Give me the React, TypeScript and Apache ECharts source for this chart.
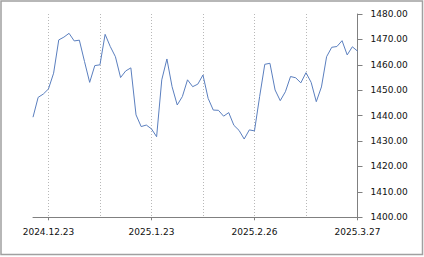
import React, { useEffect, useRef } from "react";
import * as echarts from "echarts";

const categories: string[] = [
  "2024.12.18", "2024.12.19", "2024.12.20", "2024.12.23", "2024.12.24", "2024.12.27", "2024.12.30", "2024.12.31",
  "2025.1.2", "2025.1.3", "2025.1.6", "2025.1.7", "2025.1.8", "2025.1.9", "2025.1.10", "2025.1.13",
  "2025.1.14", "2025.1.15", "2025.1.16", "2025.1.17", "2025.1.20", "2025.1.21", "2025.1.22", "2025.1.23",
  "2025.1.24", "2025.1.27", "2025.2.3", "2025.2.4", "2025.2.5", "2025.2.6", "2025.2.7", "2025.2.10",
  "2025.2.11", "2025.2.12", "2025.2.13", "2025.2.14", "2025.2.17", "2025.2.18", "2025.2.19", "2025.2.20",
  "2025.2.21", "2025.2.24", "2025.2.25", "2025.2.26", "2025.2.27", "2025.2.28", "2025.3.3", "2025.3.4",
  "2025.3.5", "2025.3.6", "2025.3.7", "2025.3.10", "2025.3.11", "2025.3.12", "2025.3.13", "2025.3.14",
  "2025.3.17", "2025.3.18", "2025.3.19", "2025.3.20", "2025.3.21", "2025.3.24", "2025.3.25", "2025.3.27",
];

const values: number[] = [
  1439.4, 1447.2, 1448.5, 1450.5, 1456.7, 1469.8, 1470.9, 1472.4,
  1469.4, 1469.7, 1461.3, 1453.1, 1459.7, 1460.0, 1472.0, 1467.2,
  1463.2, 1455.0, 1457.6, 1458.8, 1440.3, 1435.7, 1436.3, 1434.8,
  1431.7, 1454.1, 1462.3, 1451.4, 1444.2, 1447.5, 1454.1, 1451.4,
  1452.4, 1456.0, 1446.8, 1442.2, 1442.1, 1439.8, 1441.2, 1436.2,
  1434.2, 1430.8, 1434.4, 1434.0, 1447.5, 1460.2, 1460.6, 1450.1,
  1445.9, 1449.4, 1455.4, 1454.9, 1452.9, 1456.9, 1453.1, 1445.5,
  1451.3, 1463.2, 1466.9, 1467.2, 1469.5, 1463.9, 1467.1, 1465.4,
];

const yMin = 1400;
const yMax = 1480;
const yStep = 10;
const labelOffset = 3;
const labelEvery = 20;
const gridEvery = 10;

export default function App() {
  const ref = useRef<HTMLDivElement>(null);
  useEffect(() => {
    if (!ref.current) return;
    const chart = echarts.init(ref.current, null, { renderer: "svg" });
    const font = "DejaVu Sans";
    chart.setOption({
      animation: false,
      backgroundColor: "#fff",
      grid: { left: 33, right: 66.5, top: 14, bottom: 39.7 },
      graphic: [
        {
          type: "rect",
          shape: { x: 1, y: 1, width: 421.5, height: 253.5 },
          style: { fill: "none", stroke: "#a0a0a0", lineWidth: 1.5 },
          silent: true,
        },
      ],
      xAxis: {
        type: "category",
        data: categories,
        boundaryGap: false,
        axisLine: { show: true, lineStyle: { color: "#808080", width: 1 } },
        axisTick: {
          show: true,
          length: 3,
          interval: (i: number) => (i - labelOffset) % labelEvery === 0 && i >= labelOffset,
          lineStyle: { color: "#808080" },
        },
        axisLabel: {
          show: true,
          interval: (i: number) => (i - labelOffset) % labelEvery === 0 && i >= labelOffset,
          margin: 10,
          color: "#111",
          fontSize: 9,
          fontFamily: font,
        },
        splitLine: {
          show: true,
          interval: (i: number) => (i - labelOffset) % gridEvery === 0 && i >= labelOffset,
          lineStyle: { color: "#b8b8b8", type: [1, 2], width: 1 },
        },
      },
      yAxis: {
        type: "value",
        position: "right",
        min: yMin,
        max: yMax,
        interval: yStep,
        axisLine: { show: true, lineStyle: { color: "#808080", width: 1 } },
        axisTick: { show: true, length: 5, lineStyle: { color: "#808080" } },
        axisLabel: {
          margin: 13,
          color: "#111",
          fontSize: 9,
          fontFamily: font,
          formatter: (v: number) => v.toFixed(2),
        },
        splitLine: { show: false },
      },
      series: [
        {
          type: "line",
          data: values,
          showSymbol: false,
          symbol: "none",
          lineStyle: { color: "#5b7fbf", width: 1 },
        },
      ],
    });
    return () => chart.dispose();
  }, []);
  return (
    <div
      ref={ref}
      style={{ position: "absolute", left: 0, top: 0, width: 424, height: 257 }}
    />
  );
}
